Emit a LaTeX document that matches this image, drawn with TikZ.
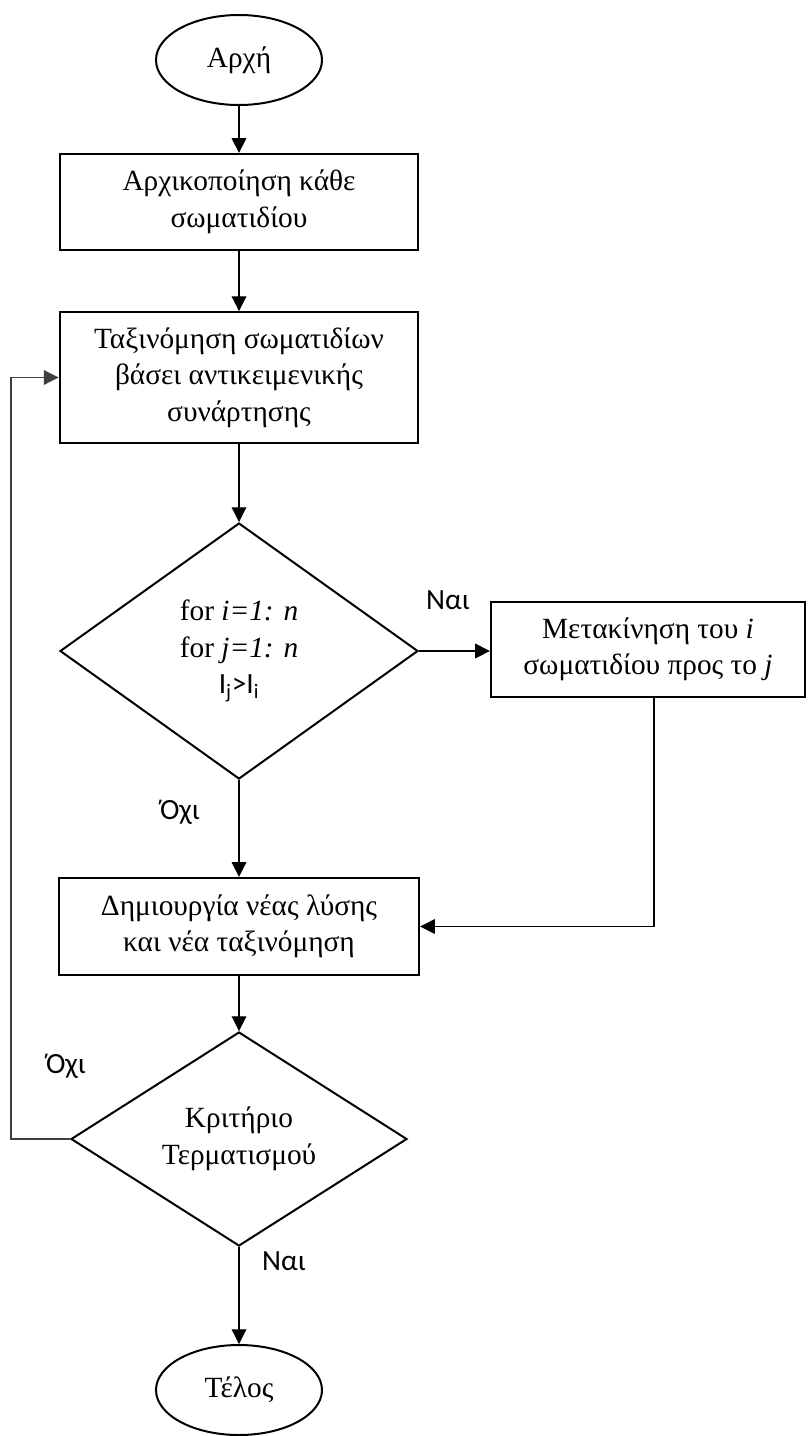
\documentclass[tikz,border=0pt]{standalone}
\usepackage{fontspec}
\setmainfont{Liberation Serif}
\newfontfamily\lblfont{Carlito}
\usetikzlibrary{shapes.geometric,arrows.meta}
\begin{document}
\begin{tikzpicture}[x=0.75pt,y=-0.75pt,
  every node/.style={font=\fontsize{22}{27.4}\selectfont},
  proc/.style={draw, line width=1.7pt, rectangle, align=center, inner sep=0pt},
  term/.style={draw, line width=1.5pt, ellipse, inner sep=0pt, minimum width=124.5pt, minimum height=67.5pt},
  dec/.style={draw, line width=1.5pt, diamond, aspect=1.4, align=center, inner sep=0pt},
  conn/.style={line width=0.8pt, -{Triangle[length=11pt,width=11pt]}},
  lbl/.style={font=\lblfont\fontsize{22}{24}\selectfont, inner sep=0pt}]
\useasboundingbox (0,0) rectangle (808,1436);

\node[term] (start) at (239,60) {Αρχή};
\node[proc, minimum width=269pt, minimum height=72pt] (init) at (239,202)
  {Αρχικοποίηση κάθε\\σωματιδίου};
\node[proc, minimum width=269pt, minimum height=98pt] (sort) at (239,377.5)
  {Ταξινόμηση σωματιδίων\\βάσει αντικειμενικής\\συνάρτησης};
\node[dec, minimum width=268.5pt, minimum height=192pt] (dec1) at (239,651)
  {for \textit{i=1: n}\\for \textit{j=1: n}\\{\lblfont I\textsubscript{j}>I\textsubscript{i}}};
\node[proc, minimum width=235.5pt, minimum height=71.25pt] (move) at (648,649.5)
  {Μετακίνηση του \textit{i}\\σωματιδίου προς το \textit{j}};
\node[proc, minimum width=270pt, minimum height=72.75pt] (newsol) at (239,926.5)
  {Δημιουργία νέας λύσης\\και νέα ταξινόμηση};
\node[dec, minimum width=252pt, minimum height=160.5pt] (dec2) at (239,1139)
  {Κριτήριο\\Τερματισμού};
\node[term] (end) at (239,1390) {Τέλος};

\node[lbl] (yes1) at (448,600) {Ναι};
\node[lbl] (no1) at (180,812) {Όχι};
\node[lbl] (no2) at (66,1066) {Όχι};
\node[lbl] (yes2) at (284,1261) {Ναι};

\coordinate (loopc) at (11,1139);

\draw[conn] (start.south) -- (init.north);
\draw[conn] (init.south) -- (sort.north);
\draw[conn] (sort.south) -- (dec1.north);
\draw[conn] (dec1.east) -- (dec1.east -| move.west);
\draw[conn] (dec1.south) -- (newsol.north);
\draw[conn] ([xshift=4.5pt]move.south) |- (newsol.east);
\draw[conn] (newsol.south) -- (dec2.north);
\draw[conn] (dec2.south) -- (end.north);
\draw[conn, draw=black!75] (dec2.west) -- (loopc) |- (sort.west);
\end{tikzpicture}
\end{document}
